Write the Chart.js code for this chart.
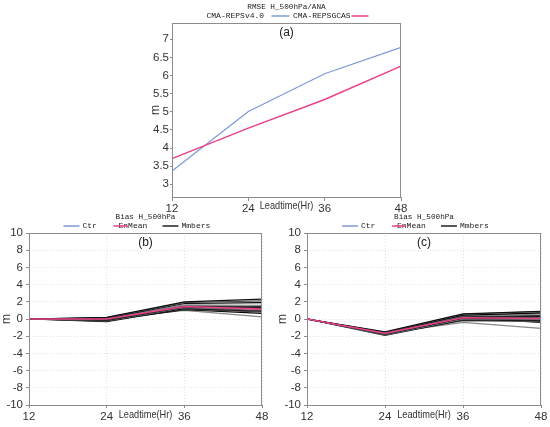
<!DOCTYPE html>
<html lang="en">
<head>
<meta charset="UTF-8">
<title>RMSE / Bias H_500hPa</title>
<script src="https://cdn.jsdelivr.net/npm/chart.js@4.4.1/dist/chart.umd.min.js"></script>
<style>
  body { margin: 0; background: #fff; }
  .box { position: absolute; }
</style>
</head>
<body>
<div class="box" style="left:130px;top:0;width:290px;height:215px"><canvas id="chartA"></canvas></div>
<div class="box" style="left:0;top:210px;width:275px;height:217px"><canvas id="chartB"></canvas></div>
<div class="box" style="left:275px;top:210px;width:275px;height:217px"><canvas id="chartC"></canvas></div>

<script>
const leadtimes = ['12', '24', '36', '48'];

// (a) RMSE H_500hPa/ANA
const rmseTicks = [3, 3.5, 4, 4.5, 5, 5.5, 6, 6.5, 7];
const rmseRepsV4 = [3.37, 5.01, 6.05, 6.78];
const rmseRepsGcas = [3.71, 4.55, 5.34, 6.26];

const biasTicks = [-10, -8, -6, -4, -2, 0, 2, 4, 6, 8, 10];

// (b) Bias H_500hPa
const ctrB = [0, -0.05, 1.3, 1.0];
const meanB = [0, 0.0, 1.45, 1.15];
const membersB = [
  [0, 0.2, 2.0, 2.3],
  [0, 0.15, 1.9, 2.1],
  [0, 0.1, 1.8, 1.9],
  [0, 0.05, 1.65, 1.6],
  [0, 0.0, 1.55, 1.45],
  [0, -0.05, 1.5, 1.35],
  [0, -0.1, 1.45, 1.25],
  [0, -0.15, 1.4, 1.2],
  [0, -0.2, 1.35, 1.1],
  [0, -0.25, 1.3, 1.0],
  [0, -0.3, 1.2, 0.9],
  [0, -0.1, 1.15, 0.8],
  [0, -0.2, 1.1, 0.65],
  [0, 0.0, 1.0, 0.25],
  [0, 0.1, 1.25, 1.5]
];

// (c) Bias H_500hPa
const ctrC = [0, -1.7, 0.1, 0.0];
const meanC = [0, -1.65, 0.15, 0.05];
const membersC = [
  [0, -1.5, 0.6, 0.9],
  [0, -1.55, 0.55, 0.85],
  [0, -1.6, 0.45, 0.7],
  [0, -1.65, 0.4, 0.55],
  [0, -1.7, 0.3, 0.4],
  [0, -1.6, 0.25, 0.3],
  [0, -1.75, 0.2, 0.2],
  [0, -1.8, 0.1, 0.1],
  [0, -1.85, 0.0, 0.0],
  [0, -1.7, -0.05, -0.1],
  [0, -1.9, -0.1, -0.2],
  [0, -1.75, -0.2, -0.3],
  [0, -1.8, 0.15, -0.4],
  [0, -1.65, -0.4, -1.1],
  [0, -1.6, 0.35, 0.75]
];

const BLUE = '#7f9bd6';
const PINK = '#e8418a';
const TICKFONT = { family: '"Liberation Sans", Arial', size: 11.5 };

// frame, title, legend, panel letter, axis captions
const decor = {
  id: 'decor',
  afterDatasetsDraw(chart, args, o) {
    const { ctx, chartArea: a, scales: { x } } = chart;
    const cx = (a.left + a.right) / 2;
    ctx.save();
    ctx.strokeStyle = '#8c8c8c';
    ctx.lineWidth = 1;
    ctx.strokeRect(Math.round(a.left) + 0.5, Math.round(a.top) + 0.5,
      Math.round(a.right - a.left) - 1, Math.round(a.bottom - a.top));

    ctx.fillStyle = '#222';
    ctx.textBaseline = 'middle';
    ctx.textAlign = 'center';
    ctx.font = '7.7px "Liberation Mono", monospace';
    ctx.fillText(o.title, cx, 7);

    ctx.font = '8px "Liberation Mono", monospace';
    ctx.textAlign = 'left';
    o.legend.forEach(it => {
      ctx.fillStyle = '#222';
      ctx.fillText(it.text, cx + it.textX, 16);
      ctx.strokeStyle = it.color;
      ctx.lineWidth = 1.5;
      ctx.beginPath();
      ctx.moveTo(cx + it.line[0], 16);
      ctx.lineTo(cx + it.line[1], 16);
      ctx.stroke();
    });

    ctx.fillStyle = '#222';
    ctx.textAlign = 'center';
    ctx.font = '12px "Liberation Sans", Arial';
    ctx.fillText(o.panel, cx, a.top + 10);

    // narrow-looking x caption between the 24 and 36 ticks
    ctx.fillStyle = '#333';
    ctx.font = TICKFONT.size + 'px ' + TICKFONT.family;
    const lx = (x.getPixelForTick(1) + x.getPixelForTick(2)) / 2;
    ctx.save();
    ctx.translate(lx, a.bottom + o.labelDy);
    ctx.scale(0.8, 1);
    ctx.fillText('Leadtime(Hr)', 0, 0);
    ctx.restore();

    ctx.translate(a.left + o.mDx, (a.top + a.bottom) / 2);
    ctx.rotate(-Math.PI / 2);
    ctx.font = '12px "Liberation Sans", Arial';
    ctx.fillText('m', 0, 0);
    ctx.restore();
  }
};

function lineSet(label, data, color, width, order) {
  return { label, data, borderColor: color, borderWidth: width, pointRadius: 0, tension: 0, order };
}

function makeChart(id, datasets, y, layout, deco) {
  new Chart(document.getElementById(id), {
    type: 'line',
    data: { labels: leadtimes, datasets },
    plugins: [decor],
    options: {
      responsive: true,
      maintainAspectRatio: false,
      animation: false,
      layout: { padding: layout.padding },
      plugins: { legend: { display: false }, tooltip: { enabled: false }, decor: deco },
      scales: {
        x: {
          offset: false,
          grid: {
            drawOnChartArea: y.grid, color: '#e2e2e2', tickLength: layout.xTick,
            tickColor: '#8c8c8c'
          },
          border: { display: false, dash: [1, 2] },
          ticks: { color: '#333', font: TICKFONT, padding: layout.xPad, maxRotation: 0, autoSkip: false },
          afterFit: s => { s.height = layout.xHeight; }
        },
        y: {
          min: y.min, max: y.max,
          grid: {
            drawOnChartArea: y.grid, color: '#e2e2e2', tickLength: layout.yTick,
            tickColor: '#8c8c8c'
          },
          border: { display: false, dash: [1, 2] },
          ticks: {
            color: '#333', font: TICKFONT, padding: layout.yPad, autoSkip: false,
            callback: v => String(v)
          },
          afterBuildTicks: s => { s.ticks = y.ticks.map(v => ({ value: v })); },
          afterFit: s => { s.width = layout.yWidth; }
        }
      }
    }
  });
}

makeChart('chartA', [
  lineSet('CMA-REPSv4.0', rmseRepsV4, BLUE, 1.3, 1),
  lineSet('CMA-REPSGCAS', rmseRepsGcas, PINK, 1.5, 0)
], { min: 2.65, max: 7.45, ticks: rmseTicks, grid: false },
{ padding: { left: 12, top: 23, right: 19, bottom: 0 }, yWidth: 30, xHeight: 18, xTick: 4, yTick: 2, xPad: 1, yPad: 1 },
{
  title: 'RMSE H_500hPa/ANA', panel: '(a)', labelDy: 9, mDx: -16,
  legend: [
    { text: 'CMA-REPSv4.0', textX: -80, line: [-15, 3], color: BLUE },
    { text: 'CMA-REPSGCAS', textX: 6.5, line: [65, 82], color: PINK }
  ]
});

function biasSets(ctr, mean, members) {
  const shades = ['#111', '#555', '#000', '#888', '#333'];
  const sets = [lineSet('Ctr', ctr, BLUE, 1.3, 2), lineSet('EnMean', mean, PINK, 1.6, 0)];
  members.forEach((m, i) => sets.push(lineSet('Mmbers', m, shades[i % shades.length], 1.2, 1)));
  return sets;
}

const biasLegend = [
  { text: 'Ctr', textX: -63, line: [-82, -66], color: BLUE },
  { text: 'EnMean', textX: -27, line: [-32, -18], color: PINK },
  { text: 'Mmbers', textX: 36, line: [17, 33], color: '#222' }
];

makeChart('chartB', biasSets(ctrB, meanB, membersB),
  { min: -10, max: 10, ticks: biasTicks, grid: true },
  { padding: { left: 0, top: 23, right: 13, bottom: 0 }, yWidth: 29, xHeight: 22, xTick: 3, yTick: 3, xPad: 2, yPad: 3 },
  { title: 'Bias H_500hPa', panel: '(b)', labelDy: 10, mDx: -22, legend: biasLegend });

makeChart('chartC', biasSets(ctrC, meanC, membersC),
  { min: -10, max: 10, ticks: biasTicks, grid: true },
  { padding: { left: 0, top: 23, right: 9, bottom: 0 }, yWidth: 32, xHeight: 22, xTick: 3, yTick: 3, xPad: 2, yPad: 3 },
  { title: 'Bias H_500hPa', panel: '(c)', labelDy: 10, mDx: -24, legend: biasLegend });
</script>
</body>
</html>
